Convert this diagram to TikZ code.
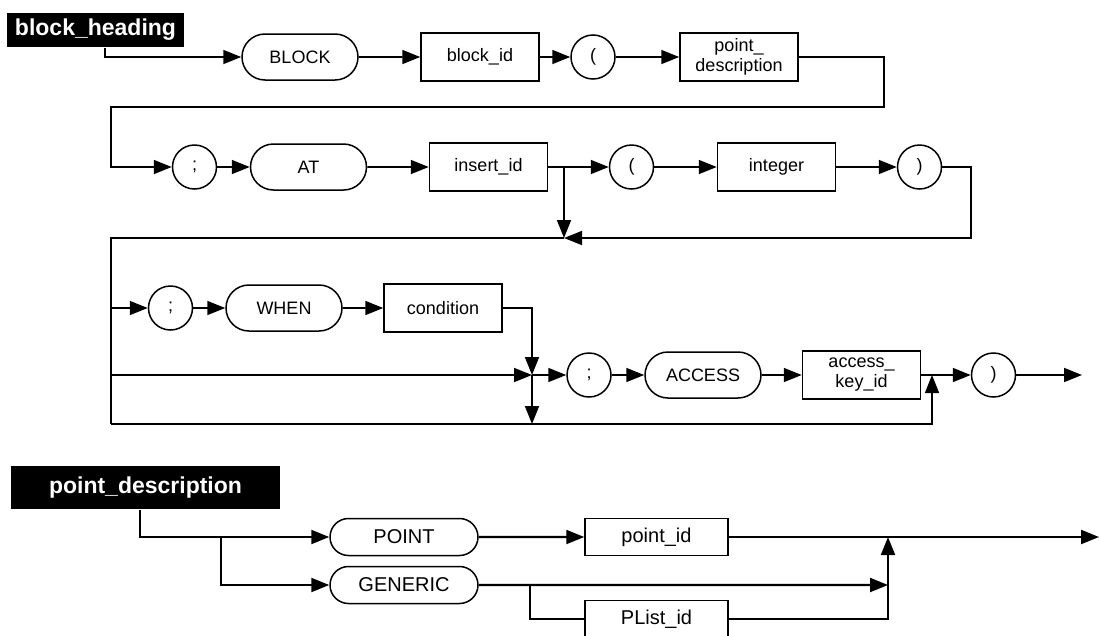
\documentclass[tikz,border=0pt]{standalone}
\usepackage{fontspec}
\setmainfont{Liberation Sans}
\usetikzlibrary{shapes.misc,arrows.meta}

\tikzset{
    kw/.style={draw, rounded rectangle, line width=1.5pt, minimum width=116pt,
        minimum height=46pt, inner sep=0pt, font=\fontsize{18}{20}\selectfont},
    rulebox/.style={draw, rectangle, line width=1.5pt, minimum width=118pt,
        minimum height=48pt, inner sep=0pt, align=center, font=\fontsize{18}{20}\selectfont},
    sym/.style={draw, circle, line width=1.5pt, minimum size=44pt, inner sep=0pt,
        font=\fontsize{18}{20}\selectfont},
    headbox/.style={fill=black, text=white, inner sep=0pt, font=\bfseries\fontsize{23}{25}\selectfont},
    arr/.style={-{Triangle[length=18pt,width=14pt]}}
}

\begin{document}
\begin{tikzpicture}[x=1pt, y=-1pt, line width=1.6pt]
    \useasboundingbox (0,0) rectangle (1099,635);

    % headings
    \node[headbox, minimum width=177pt, minimum height=34pt] (bh) at (95.5,30) {block\_heading};
    \node[headbox, minimum width=269pt, minimum height=43pt] (pdh) at (145.5,487.5) {point\_description};

    % keywords, rules and symbols of block_heading
    \foreach \nm/\x/\y/\txt in {BLOCK/300/57/BLOCK, AT/308.5/167/AT,
        WHEN/284/308/WHEN, ACCESS/703/375/ACCESS}{
        \node[kw] (\nm) at (\x,\y) {\txt};
    }
    \node[rulebox] (blockid) at (480,57) {block\_id};
    \node[rulebox] (pdesc) at (739,57) {point\_\\description};
    \node[rulebox] (insertid) at (488.5,167) {insert\_id};
    \node[rulebox] (integer) at (776.5,167) {integer};
    \node[rulebox] (condition) at (443,308) {condition};
    \node[rulebox] (akey) at (861.5,375) {access\_\\key\_id};
    \foreach \nm/\x/\y/\txt in {lparA/593/57/{(}, semiA/194.5/167/{;},
        lparB/631.5/167/{(}, rparA/919.5/167/{)}, semiB/170.5/308/{;},
        semiC/589/375/{;}, rparB/993.5/375/{)}}{
        \node[sym] (\nm) at (\x,\y) {\txt};
    }

    % turning points and junctions
    \coordinate (s0) at (105,57);
    \coordinate (r1) at (884,107);
    \coordinate (l1) at (111,107);
    \coordinate (j2) at (564,167);
    \coordinate (j3) at (564,238);
    \coordinate (r2) at (971,238);
    \coordinate (l2) at (111,238);
    \coordinate (b1) at (111,308);
    \coordinate (b2) at (111,375);
    \coordinate (l3) at (111,424);
    \coordinate (j4) at (532,375);
    \coordinate (j5) at (532,424);
    \coordinate (j6) at (932,375);
    \coordinate (endA) at (1082,375);

    \foreach \a/\b in {BLOCK/blockid, blockid/lparA, lparA/pdesc,
        semiA/AT, AT/insertid, insertid/lparB, lparB/integer, integer/rparA,
        semiB/WHEN, WHEN/condition,
        j4/semiC, semiC/ACCESS, ACCESS/akey, akey/rparB, rparB/endA}{
        \draw[arr] (\a) -- (\b);
    }
    \draw[arr] (bh.south -| s0) |- (BLOCK.west);
    \draw[arr] (pdesc.east) -| (r1) -- (l1) |- (semiA.west);
    \draw[arr] (j2) -- (j3);
    \draw[arr] (rparA.east) -| (r2) -- (j3);
    \draw (j3) -- (l2) -- (l3);
    \draw[arr] (b1) -- (semiB.west);
    \draw[arr] (condition.east) -| (j4);
    \draw[arr] (b2) -- (j4);
    \draw[arr] (j4) -- (j5);
    \draw[arr] (l3) -| (j6);

    % point_description
    \begin{scope}[line width=2.1pt,
        kw/.append style={minimum width=148pt, minimum height=37pt, font=\fontsize{20}{22}\selectfont},
        rulebox/.append style={minimum width=143pt, minimum height=37pt, font=\fontsize{20}{22}\selectfont}]
        \node[kw] (POINT) at (404,537) {POINT};
        \node[kw] (GENERIC) at (404,585) {GENERIC};
        \node[rulebox] (pointid) at (656.5,537) {point\_id};
        \node[rulebox] (plist) at (656.5,619) {PList\_id};

        \coordinate (k0) at (140,537);
        \coordinate (k1) at (221,537);
        \coordinate (k2) at (530,585);
        \coordinate (k3) at (888,585);
        \coordinate (k4) at (888,537);
        \coordinate (endB) at (1099,537);

        \draw[arr] (pdh.south -| k0) |- (POINT.west);
        \draw[arr] (k1) |- (GENERIC.west);
        \draw[arr] (POINT) -- (pointid);
        \draw[arr] (pointid) -- (endB);
        \draw[arr] (GENERIC) -- (k3);
        \draw (k2) |- (plist.west);
        \draw[arr] (plist.east) -| (k4);
    \end{scope}
\end{tikzpicture}
\end{document}
